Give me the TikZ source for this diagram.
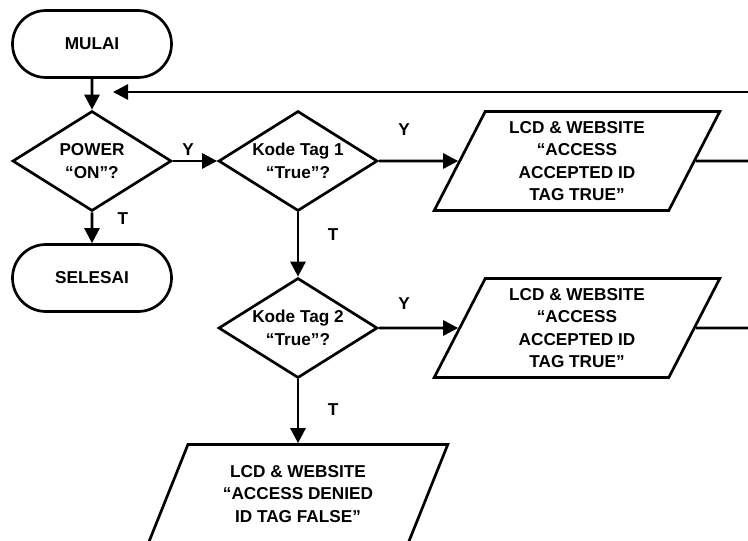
\documentclass[tikz,border=0pt]{standalone}
\usepackage{fontspec}
\setmainfont{Liberation Sans}
\usetikzlibrary{shapes.geometric,shapes.misc,arrows.meta}

\tikzset{
    base/.style={draw, line width=1.35pt, font=\fontsize{8.6}{11.2}\selectfont\bfseries, align=center},
    terminal/.style={base, rounded rectangle, minimum width=79.5pt, minimum height=33.5pt, inner sep=0pt},
    decision/.style={base, diamond, minimum width=79.5pt, minimum height=50pt, inner xsep=-8pt, inner ysep=-4pt},
    io/.style={base, trapezium, trapezium left angle=64.6, trapezium right angle=115.4,
        trapezium stretches=true, minimum height=49.5pt, inner sep=0pt},
    lbl/.style={font=\fontsize{8.6}{11.2}\selectfont\bfseries},
    line/.style={line width=1.35pt},
    arr/.style={line, -{Triangle[length=7.5pt,width=7.5pt]}},
}

\begin{document}
\begin{tikzpicture}[x=0.5pt, y=-0.5pt]
    \useasboundingbox (0,0) rectangle (748,540);
    \clip (0,0) rectangle (748,540);

    \node[terminal] (mulai) at (92,44) {MULAI};
    \node[decision] (power) at (92,161) {POWER\\“ON”?};
    \node[terminal] (selesai) at (92,278) {SELESAI};
    \node[decision] (kode1) at (298,161) {Kode Tag 1\\“True”?};
    \node[decision] (kode2) at (298,328) {Kode Tag 2\\“True”?};
    \node[io, minimum width=143pt] (lcd1) at (577,161) {LCD \& WEBSITE\\“ACCESS\\ACCEPTED ID\\TAG TRUE”};
    \node[io, minimum width=143pt] (lcd2) at (577,328) {LCD \& WEBSITE\\“ACCESS\\ACCEPTED ID\\TAG TRUE”};
    \node[io, minimum width=150pt] (denied) at (298,494) {LCD \& WEBSITE\\“ACCESS DENIED\\ID TAG FALSE”};

    \coordinate (back) at (748,92);
    \coordinate (backin) at (113,92);
    \coordinate (out1) at (748,161);
    \coordinate (out2) at (748,328);

    \node[lbl] (y1) at (188,150) {Y};
    \node[lbl] (t1) at (123,219) {T};
    \node[lbl] (y2) at (404,130) {Y};
    \node[lbl] (t2) at (333,235) {T};
    \node[lbl] (y3) at (404,304) {Y};
    \node[lbl] (t3) at (333,410) {T};

    \draw[arr] (mulai) -- (power);
    \draw[arr] (power) -- (selesai);
    \draw[arr] (power) -- (kode1);
    \draw[arr] (kode1) -- (lcd1);
    \draw[arr] (kode1) -- (kode2);
    \draw[arr] (kode2) -- (lcd2);
    \draw[arr] (kode2) -- (denied);
    \draw[line] (lcd1) -- (out1);
    \draw[line] (lcd2) -- (out2);
    \draw[arr] (back) -- (backin);
\end{tikzpicture}
\end{document}
